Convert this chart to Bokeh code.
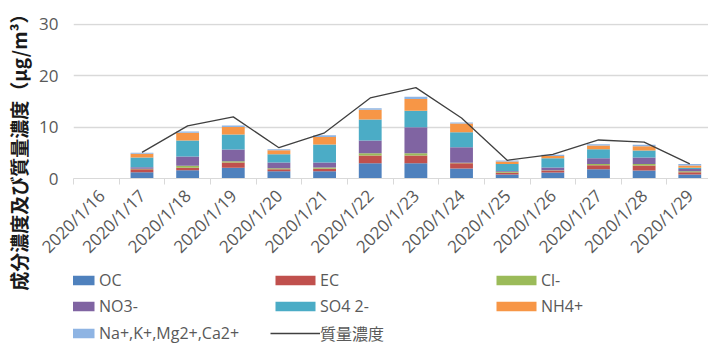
import math
from bokeh.plotting import figure
from bokeh.layouts import row, column
from bokeh.models import (Range1d, FixedTicker, Legend, LegendItem, Label,
                          ColumnDataSource)
from bokeh.embed import file_html
from bokeh.resources import INLINE

nan = float("nan")

dates = ["2020/1/16", "2020/1/17", "2020/1/18", "2020/1/19", "2020/1/20",
         "2020/1/21", "2020/1/22", "2020/1/23", "2020/1/24", "2020/1/25",
         "2020/1/26", "2020/1/27", "2020/1/28", "2020/1/29"]

oc = [nan, 1.2, 1.6, 2.1, 1.4, 1.4, 2.95, 2.95, 1.95, 0.8, 1.15, 1.8, 1.55, 0.8]
ec = [nan, 0.6, 0.5, 1.0, 0.4, 0.5, 1.55, 1.55, 1.0, 0.3, 0.4, 0.8, 1.0, 0.4]
cl = [nan, 0.1, 0.4, 0.25, 0.2, 0.25, 0.4, 0.4, 0.1, 0.2, 0.05, 0.2, 0.25, 0.2]
no3 = [nan, 0.3, 1.8, 2.3, 1.1, 0.95, 2.5, 5.1, 3.05, 0.15, 0.55, 1.15, 1.3, 0.45]
so4 = [nan, 1.9, 3.1, 2.9, 1.6, 3.5, 4.1, 3.2, 2.9, 1.35, 1.8, 1.75, 1.35, 0.25]
nh4 = [nan, 0.7, 1.5, 1.5, 0.8, 1.5, 1.9, 2.3, 1.7, 0.5, 0.45, 0.75, 0.85, 0.45]
cations = [nan, 0.2, 0.25, 0.25, 0.2, 0.3, 0.3, 0.4, 0.2, 0.2, 0.25, 0.2, 0.25, 0.25]
mass = [nan, 5.1, 10.25, 12.0, 6.0, 8.9, 15.7, 17.7, 11.8, 3.55, 4.7, 7.5, 7.1, 2.85]

series_names = ["OC", "EC", "Cl-", "NO3-", "SO4 2-", "NH4+", "Na+,K+,Mg2+,Ca2+"]
series_keys = ["oc", "ec", "cl", "no3", "so4", "nh4", "cations"]
colors = ["#4F81BD", "#C0504D", "#9BBB59", "#8064A2", "#4BACC6", "#F79646", "#8EB4E3"]
line_name = "質量濃度"
y_title = "成分濃度及び質量濃度（μg/m³）"
y_ticks = [0, 10, 20, 30]

xs = list(range(len(dates)))
src = ColumnDataSource(dict(x=xs, oc=oc, ec=ec, cl=cl, no3=no3, so4=so4,
                            nh4=nh4, cations=cations, mass=mass))

LATIN = "Open Sans, Noto Sans CJK JP"
GREY = "#595959"
LINE_COLOR = "#404040"

# ---- main chart -------------------------------------------------------
p = figure(width=672, height=268, output_backend="svg", toolbar_location=None,
           x_range=Range1d(-0.5, 13.41), y_range=Range1d(0, 30.19),
           min_border_left=37, min_border_right=0, min_border_top=23,
           min_border_bottom=89)
p.outline_line_color = None

bars = p.vbar_stack(series_keys, x="x", width=0.5, color=colors, source=src,
                    line_color=None)
p.line(x="x", y="mass", source=src, line_color=LINE_COLOR, line_width=1.3)

p.xaxis.ticker = FixedTicker(ticks=xs, minor_ticks=[i - 0.5 for i in range(len(dates) + 1)])
p.xaxis.major_label_overrides = {i: d for i, d in enumerate(dates)}
p.xaxis.major_label_orientation = math.pi / 4
p.xaxis.major_tick_line_color = None
p.xaxis.major_tick_out = 0
p.xaxis.major_tick_in = 0
p.xaxis.minor_tick_line_color = "#d9d9d9"
p.xaxis.minor_tick_out = 6
p.xaxis.minor_tick_in = 0
p.xaxis.axis_line_color = "#d9d9d9"
p.xaxis.major_label_text_font = LATIN
p.xaxis.major_label_text_font_size = "17px"
p.xaxis.major_label_text_color = GREY
p.xaxis.major_label_standoff = 8
p.xgrid.visible = False

p.yaxis.ticker = FixedTicker(ticks=y_ticks)
p.yaxis.axis_line_color = None
p.yaxis.major_tick_line_color = None
p.yaxis.minor_tick_line_color = None
p.yaxis.major_tick_out = 0
p.yaxis.major_label_standoff = 15
p.yaxis.major_label_text_font = LATIN
p.yaxis.major_label_text_font_size = "17px"
p.yaxis.major_label_text_color = GREY
p.ygrid.ticker = FixedTicker(ticks=y_ticks)
p.ygrid.grid_line_color = "#d9d9d9"
p.ygrid.grid_line_width = 1.3

# ---- y-axis title strip ------------------------------------------------
t = figure(width=36, height=347, output_backend="svg", toolbar_location=None,
           x_range=Range1d(0, 1), y_range=Range1d(0, 1),
           x_axis_type=None, y_axis_type=None,
           min_border_left=0, min_border_right=0, min_border_top=0,
           min_border_bottom=0)
t.outline_line_color = None
t.grid.visible = False
t.add_layout(Label(x=0.5, y=0.576, text=y_title, angle=90, angle_units="deg",
                   text_align="center", text_baseline="middle",
                   text_font="Noto Sans CJK JP", text_font_style="bold",
                   text_font_size="19px", text_color="#1a1a1a"))

# ---- legend strip ------------------------------------------------------
lg = figure(width=672, height=79, output_backend="svg", toolbar_location=None,
            x_range=Range1d(0, 1), y_range=Range1d(0, 1),
            x_axis_type=None, y_axis_type=None,
            min_border_left=0, min_border_right=0, min_border_top=0,
            min_border_bottom=0)
lg.outline_line_color = None
lg.grid.visible = False
items = []
for key, name, c in zip(series_keys, series_names, colors):
    r = lg.vbar(x="x", top=key, width=0.5, source=src, fill_color=c,
                line_color=None, visible=False)
    items.append(LegendItem(label=name, renderers=[r]))
lr = lg.line(x="x", y="mass", source=src, line_color=LINE_COLOR, line_width=1.3,
             visible=False)
items.append(LegendItem(label=line_name, renderers=[lr]))
legend = Legend(items=items, location=(-24, 2), orientation="horizontal",
                ncols=3, glyph_width=50, glyph_height=12, label_standoff=0,
                label_width=167, label_height=20, spacing=4, padding=0, margin=0,
                border_line_color=None, background_fill_alpha=0,
                inactive_fill_alpha=0,
                label_text_font=LATIN, label_text_font_size="16px",
                label_text_color=GREY)
lg.add_layout(legend, "center")

layout = row(t, column(p, lg))
open("out.html", "w").write(file_html(layout, INLINE))
